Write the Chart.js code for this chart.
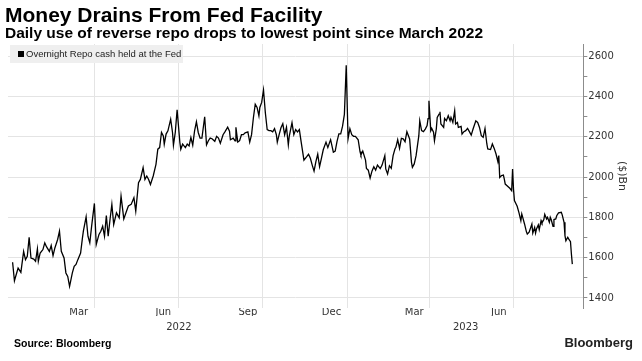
<!DOCTYPE html>
<html>
<head>
<meta charset="utf-8">
<script src="https://cdn.jsdelivr.net/npm/chart.js@4.4.0/dist/chart.umd.min.js"></script>
<style>
  body { margin: 0; background: #fff; }
  #wrap { position: relative; width: 642px; height: 361px; overflow: hidden; font-family: "Liberation Sans", Arial, sans-serif; }
  #chart { position: absolute; left: 0; top: 0; }
  .title { position: absolute; left: 5px; top: 3px; font-size: 21px; font-weight: bold; color: #000; white-space: nowrap; }
  .subtitle { position: absolute; left: 5px; top: 24px; font-size: 15.5px; font-weight: bold; color: #000; white-space: nowrap; }
  .legend { position: absolute; left: 10px; top: 45px; width: 173px; height: 18px; background: #efefef; font-size: 9.5px; color: #222; line-height: 18px; white-space: nowrap; }
  .legend .sq { display: inline-block; width: 6px; height: 6px; background: #000; margin: 0 2px 0 8px; vertical-align: 0px; }
  .source { position: absolute; left: 14px; top: 337px; font-size: 10.5px; font-weight: bold; color: #000; }
  .logo { position: absolute; right: 9px; top: 335px; font-size: 13px; font-weight: bold; color: #222; }
</style>
</head>
<body>
<div id="wrap">
  <canvas id="chart" width="642" height="361"></canvas>
  <div class="title">Money Drains From Fed Facility</div>
  <div class="subtitle">Daily use of reverse repo drops to lowest point since March 2022</div>
  <div class="legend"><span class="sq"></span>Overnight Repo cash held at the Fed</div>
  <div class="source">Source: Bloomberg</div>
  <div class="logo">Bloomberg</div>
</div>
<script>
// days since 2022-01-01
const days = [
  1, 3, 7, 10, 13, 15, 17, 19, 21, 24, 26, 28, 29, 31, 34, 36, 38, 41, 43, 45,
  47, 50, 52, 54, 57, 59, 61, 63, 66, 68, 70, 72, 75, 77, 78, 81, 83, 85, 87, 90,
  92, 95, 97, 99, 101, 103, 105, 107, 109, 111, 114, 117, 119, 122, 125, 127, 130, 133, 135, 138,
  140, 143, 145, 147, 149, 151, 154, 157, 159, 161, 163, 165, 166, 168, 170, 173, 175, 176, 178, 180,
  183, 184, 186, 189, 191, 193, 195, 197, 199, 201, 203,
  205, 207, 210, 212, 214, 216, 218, 221, 223, 225, 227, 230, 232, 235, 237, 238, 241, 243, 244, 246,
  248, 250, 252, 254, 257, 259, 261, 263, 265, 267, 269, 270, 272, 274, 276, 278, 280, 282, 284, 286,
  288, 289, 291, 293, 295, 297, 299, 301, 302, 305, 307, 309, 311, 313, 315, 318, 321, 323, 325, 327,
  329, 331, 333, 335, 337, 339, 342, 344, 346, 347, 350, 352, 354, 356, 358, 360, 362, 364, 366, 368,
  370, 372, 374, 377, 379, 380, 382, 385, 386, 388, 390, 392, 394, 396, 398, 401, 403,
  406, 407, 409, 411, 413, 415, 417, 418, 420, 422, 424, 426, 428, 430, 433, 435, 436, 438, 440, 441,
  443, 444, 446, 448, 450, 452, 453, 454, 456, 457, 459, 460, 462, 463, 465, 466, 467, 470, 471, 473,
  475, 477, 478, 480, 482, 483, 485, 486, 489, 490, 492, 494, 496, 498, 500, 502, 505, 507, 509, 511,
  513, 515, 517, 518, 521, 523, 525, 527, 529, 530, 531, 533, 535, 536, 537, 539, 542, 544, 545, 546,
  547, 550, 552, 554, 555, 558, 560, 561, 563, 566, 567, 569, 570, 571, 573, 574, 576, 577, 579, 580,
  582, 583, 585, 586, 587, 589, 590, 592, 593, 595, 598, 599, 601, 602, 603, 605, 606, 608, 609, 610
];

// Overnight reverse repo, $Bn
const repoCash = [
  1577, 1485, 1548, 1527, 1631, 1590, 1607, 1701, 1598, 1593, 1582, 1643, 1582, 1623, 1640, 1673, 1653, 1631, 1660, 1610,
  1648, 1690, 1731, 1631, 1598, 1524, 1507, 1457, 1524, 1557, 1566, 1590, 1623, 1698, 1731, 1802, 1706, 1673, 1756, 1869,
  1665, 1715, 1731, 1756, 1706, 1809, 1706, 1789, 1864, 1764, 1822, 1797, 1905, 1792, 1831, 1856, 1864, 1897, 1831, 1972,
  1988, 2046, 1988, 2005, 1988, 1963, 2005, 2063, 2138, 2146, 2221, 2204, 2163, 2213, 2229, 2287, 2221, 2158, 2221, 2334,
  2171, 2138, 2163, 2146, 2163, 2154, 2196, 2158, 2229, 2274, 2221,
  2193, 2193, 2299, 2160, 2180, 2193, 2190, 2177, 2202, 2193, 2168, 2210, 2224, 2247, 2227, 2185, 2193, 2180, 2247, 2173,
  2180, 2210, 2210, 2219, 2224, 2173, 2210, 2294, 2361, 2345, 2303, 2345, 2370, 2432, 2319, 2235, 2230, 2230, 2224, 2240,
  2210, 2173, 2210, 2244, 2264, 2210, 2247, 2160, 2202, 2269, 2210, 2235, 2224, 2235, 2173, 2084, 2101, 2113, 2093, 2059,
  2029, 2076, 2113, 2051, 2093, 2135, 2173, 2146, 2173, 2185, 2123, 2129, 2177, 2214, 2214, 2252, 2311, 2554, 2190, 2240,
  2210, 2202, 2202, 2185, 2126, 2109, 2129, 2084, 2042, 2034, 1995, 2029, 2051, 2034, 2059, 2042, 2059,
  2106, 2040, 2015, 2056, 2043, 2106, 2139, 2147, 2185, 2142, 2192, 2189, 2175, 2225, 2189, 2073, 2048, 2065, 2106, 2106,
  2205, 2279, 2230, 2225, 2238, 2255, 2290, 2378, 2230, 2241, 2222, 2180, 2238, 2296, 2312, 2324, 2263, 2246, 2291, 2279,
  2304, 2279, 2296, 2271, 2329, 2263, 2271, 2246, 2251, 2213, 2225, 2230, 2241, 2225, 2208, 2238, 2279, 2271, 2246, 2205,
  2197, 2241, 2164, 2139, 2136, 2164, 2142, 2114, 2076, 2106, 1998, 2007, 2010, 1990, 1965, 1957, 1944, 1932, 2040, 1940,
  1883, 1855, 1822, 1783, 1817, 1767, 1729, 1717, 1726, 1767, 1722, 1750, 1722, 1742, 1762, 1739, 1784, 1772, 1789, 1815,
  1792, 1800, 1775, 1800, 1789, 1755, 1789, 1792, 1808, 1822, 1825, 1812, 1775, 1709, 1684, 1701, 1693, 1679, 1618, 1568
];

// month boundaries (gridlines) and mid-month label positions
const gridDays = [90, 181, 273, 365, 455, 546];
const monthLabels = ["Mar", "Jun", "Sep", "Dec", "Mar", "Jun"];
const monthLabelDays = [73, 165, 257, 348, 438, 530];
const yearLabels = ["2022", "2023"];
const yearLabelDays = [182, 494];

const yMajorTicks = [1400, 1600, 1800, 2000, 2200, 2400, 2600];
const yMinorTicks = [1500, 1700, 1900, 2100, 2300, 2500];

const xMin = -4, xMax = 622;
const axisFont = { family: "DejaVu Sans", size: 10 };
const gridColor = "#e4e4e4";

const ctx = document.getElementById("chart").getContext("2d");

const points = days.map((d, i) => ({ x: d, y: repoCash[i] }));

new Chart(ctx, {
  type: "line",
  data: {
    datasets: [
      {
        label: "Overnight Repo cash held at the Fed",
        data: points,
        borderColor: "#000",
        borderWidth: 1.3,
        pointRadius: 0,
        tension: 0,
      },
    ],
  },
  options: {
    responsive: false,
    animation: false,
    layout: { padding: { left: 8, top: 44, right: 14, bottom: 23 } },
    plugins: {
      legend: { display: false },
      tooltip: { enabled: false },
    },
    scales: {
      // gridlines at month boundaries, month names at mid-month
      x: {
        type: "linear",
        position: "bottom",
        weight: 0,
        min: xMin,
        max: xMax,
        clip: false,
        afterBuildTicks: (s) => {
          s.ticks = gridDays.concat(monthLabelDays).sort((a, b) => a - b).map((v) => ({ value: v }));
        },
        grid: {
          color: (c) => (c.tick && gridDays.includes(c.tick.value) ? gridColor : "rgba(0,0,0,0)"),
          drawTicks: false,
        },
        border: { display: false },
        ticks: {
          autoSkip: false,
          maxRotation: 0,
          padding: -2,
          color: "#333",
          font: axisFont,
          callback: (v) => (monthLabelDays.includes(v) ? monthLabels[monthLabelDays.indexOf(v)] : ""),
        },
      },
      years: {
        type: "linear",
        axis: "x",
        position: "bottom",
        weight: 1,
        min: xMin,
        max: xMax,
        afterBuildTicks: (s) => { s.ticks = yearLabelDays.map((v) => ({ value: v })); },
        grid: { display: false, drawTicks: false },
        border: { display: false },
        ticks: {
          autoSkip: false,
          maxRotation: 0,
          padding: 5,
          color: "#333",
          font: axisFont,
          callback: (v) => yearLabels[yearLabelDays.indexOf(v)],
        },
      },
      y: {
        position: "right",
        min: 1350,
        max: 2660,
        afterBuildTicks: (s) => {
          s.ticks = yMajorTicks.concat(yMinorTicks).sort((a, b) => a - b).map((v) => ({ value: v }));
        },
        grid: {
          color: (c) => (c.tick && yMajorTicks.includes(c.tick.value) ? gridColor : "rgba(0,0,0,0)"),
          tickColor: "#8c8c8c",
          tickLength: 4,
        },
        border: { color: "#8c8c8c", width: 1 },
        ticks: {
          padding: 1,
          color: "#333",
          font: axisFont,
          callback: (v) => (yMajorTicks.includes(v) ? String(v) : ""),
        },
        title: {
          display: true,
          text: "($)Bn",
          color: "#333",
          font: { family: "DejaVu Sans", size: 11 },
          padding: { top: 0, bottom: 0 },
        },
      },
    },
  },
});
</script>
</body>
</html>
